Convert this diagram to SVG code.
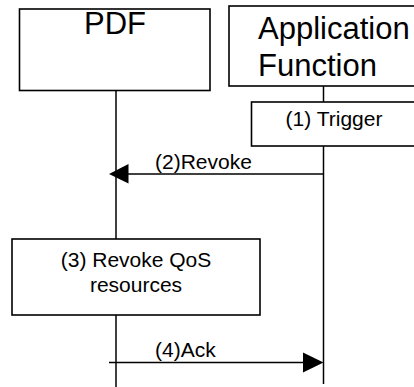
<svg xmlns="http://www.w3.org/2000/svg" width="414" height="387" viewBox="0 0 414 387">
<defs>
<style>
.box{fill:#fff;stroke:#000;stroke-width:1.6}
.line{stroke:#000;stroke-width:1.5;fill:none}
.big{font-family:"Liberation Sans",Arial,sans-serif;font-size:31px;fill:#000}
.lbl{font-family:"Liberation Sans",Arial,sans-serif;font-size:21px;fill:#000}
</style>
</defs>
<rect width="414" height="387" fill="#fff"/>
<g id="connectors">
<line class="line" x1="116" y1="91" x2="116" y2="239"/>
<line class="line" x1="116" y1="315" x2="116" y2="387"/>
<line class="line" x1="323.5" y1="86" x2="323.5" y2="102"/>
<line class="line" x1="323.5" y1="146" x2="323.5" y2="384"/>
<g id="msg2">
<line class="line" x1="323.5" y1="174" x2="126" y2="174"/>
<polygon points="109,174 128.5,164 128.5,183.5" fill="#000"/>
<text class="lbl" x="155" y="168.5">(2)Revoke</text>
</g>
<g id="msg4">
<line class="line" x1="109" y1="362.5" x2="306" y2="362.5"/>
<polygon points="323.5,362.5 303,352.5 303,372.5" fill="#000"/>
<text class="lbl" x="155" y="357">(4)Ack</text>
</g>
</g>
<g id="pdf">
<rect class="box" x="19.5" y="9" width="190.5" height="81.5"/>
<text class="big" x="115" y="34" text-anchor="middle">PDF</text>
</g>
<g id="af">
<rect class="box" x="229" y="6" width="200" height="80"/>
<text class="big" x="258" y="38.5" font-size="32">Application</text>
<text class="big" x="258" y="76" font-size="32">Function</text>
</g>
<g id="trigger">
<rect class="box" x="251.5" y="102" width="170" height="44"/>
<text class="lbl" x="334" y="126" text-anchor="middle">(1) Trigger</text>
</g>
<g id="revokeqos">
<rect class="box" x="12" y="239" width="248" height="76"/>
<text class="lbl" x="136" y="266.5" text-anchor="middle">(3) Revoke QoS</text>
<text class="lbl" x="136" y="291.5" text-anchor="middle">resources</text>
</g>
</svg>
